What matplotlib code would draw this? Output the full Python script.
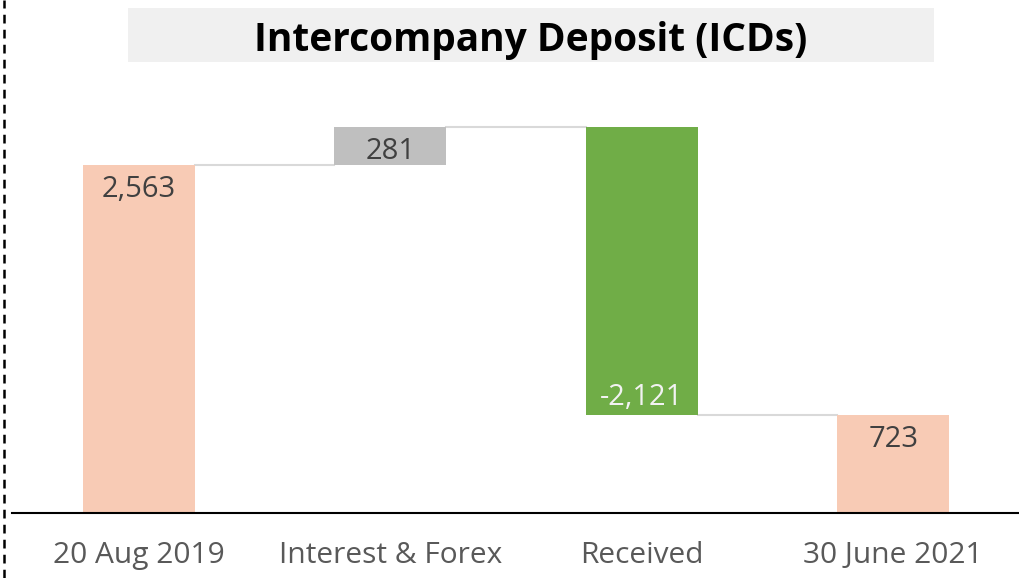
import numpy as np
import matplotlib.pyplot as plt
from matplotlib.patches import Rectangle
from matplotlib.lines import Line2D

categories = ["20 Aug 2019", "Interest & Forex", "Received", "30 June 2021"]
values = [2563, 281, -2121, 723]
kinds = ["total", "delta", "delta", "total"]
labels = ["2,563", "281", "-2,121", "723"]

colors = {"total": "#F8CBB5", "up": "#BFBFBF", "down": "#70AD47"}

plt.rcParams['font.family'] = ['Open Sans', 'DejaVu Sans']

fig = plt.figure(figsize=(10.19, 5.78), dpi=100)
ax = fig.add_axes([12 / 1019, (578 - 513) / 578, 1 - 12 / 1019, (513 - 100) / 578])

# waterfall bottoms/tops
running = 0
bottoms, heights, tops = [], [], []
for v, k in zip(values, kinds):
    if k == "total":
        b, h = 0, v
        running = v
    else:
        b = running if v > 0 else running + v
        h = abs(v)
        running += v
    bottoms.append(b)
    heights.append(h)
    tops.append(running)

x = np.arange(len(categories))
width = 0.446
bar_cols = []
for v, k in zip(values, kinds):
    if k == "total":
        bar_cols.append(colors["total"])
    elif v > 0:
        bar_cols.append(colors["up"])
    else:
        bar_cols.append(colors["down"])

ax.bar(x, heights, width, bottom=bottoms, color=bar_cols, zorder=2)

# connector lines
for i in range(len(x) - 1):
    ax.plot([x[i] + width / 2, x[i + 1] - width / 2], [tops[i], tops[i]],
            color="#D9D9D9", lw=1.5, zorder=1)

# data labels inside end
for i, (v, k) in enumerate(zip(values, kinds)):
    col = "#F2F2F2" if bar_cols[i] == colors["down"] else "#404040"
    if v >= 0:
        yy, off = bottoms[i] + heights[i], -17.5
    else:
        yy, off = bottoms[i], 12.5
    ax.annotate(labels[i], (x[i], yy), xytext=(0, off), textcoords="offset points",
                ha="center", va="center", fontsize=21, color=col, zorder=3)

ax.set_xlim(-0.505, 3.5)
ax.set_ylim(0, 3041)
ax.set_xticks(x)
ax.set_xticklabels(categories, fontsize=21.5, color="#595959")
ax.tick_params(axis="x", length=0, pad=20)
ax.set_yticks([])
for s in ["top", "left", "right"]:
    ax.spines[s].set_visible(False)
ax.spines["bottom"].set_linewidth(1.5)
ax.spines["bottom"].set_color("#000000")

# title box
fig.patches.append(Rectangle((128 / 1019, (578 - 62) / 578), 806 / 1019, 54 / 578,
                             transform=fig.transFigure, facecolor="#F0F0F0",
                             edgecolor="none", zorder=0))
fig.text(531 / 1019, (578 - 41) / 578, "Intercompany Deposit (ICDs)",
         ha="center", va="center", fontsize=28, fontweight="bold", color="#000000")

# dashed divider on the left
fig.lines.append(Line2D([4 / 1019, 4 / 1019], [0, 1], transform=fig.transFigure,
                        color="black", lw=1.8, linestyle=(0, (3.5, 2.5))))

fig.savefig("out.png", dpi=100)
